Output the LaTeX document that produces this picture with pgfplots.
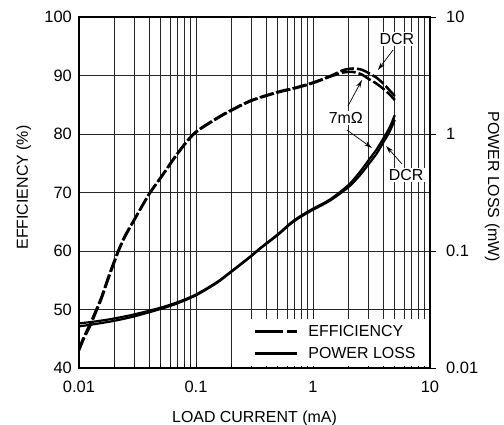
\documentclass[border=0pt]{standalone}
\usepackage{fontspec}
\setmainfont{Liberation Sans}
\usepackage{pgfplots}
\usepackage{pgfplotstable}
\pgfplotsset{compat=1.18}
\usetikzlibrary{arrows.meta}

\pgfplotstableread{
x a b
0.0100 43.0 43.3
0.0110 45.0 45.3
0.0124 47.1 47.5
0.0140 49.6 49.9
0.0156 51.9 52.2
0.0180 55.5 55.8
0.0217 59.9 60.1
0.0250 62.6 62.8
0.0303 65.6 65.7
0.0350 67.8 67.9
0.0407 70.0 70.1
0.0500 72.5 72.6
0.0650 75.8 75.9
0.0800 78.2 78.3
0.1000 80.3 80.4
0.1500 82.6 82.7
0.2000 84.0 84.1
0.3000 85.7 85.8
0.5000 87.1 87.2
0.7000 87.8 87.9
1.0000 88.7 88.8
1.4000 89.8 89.9
1.8000 90.5 90.9
2.2000 90.6 91.2
2.6000 90.2 91.0
3.0000 89.4 90.4
3.5000 88.6 89.6
4.0000 87.7 88.6
4.5000 86.8 87.5
5.0000 85.8 86.5
}\efftable

\pgfplotstableread{
x a b
0.0100 0.0240 0.0227
0.0125 0.0247 0.0234
0.0150 0.0253 0.0241
0.0200 0.0265 0.0253
0.0300 0.0288 0.0277
0.0500 0.0328 0.0320
0.0700 0.0366 0.0358
0.1000 0.0425 0.0418
0.1500 0.0540 0.0532
0.2000 0.0670 0.0662
0.3000 0.0920 0.0910
0.3500 0.1050 0.1040
0.5000 0.1390 0.1370
0.6500 0.1750 0.1720
0.8000 0.2020 0.1980
1.0000 0.2300 0.2250
1.4000 0.2760 0.2700
2.0000 0.3650 0.3500
2.5000 0.4700 0.4400
3.0000 0.6000 0.5550
3.5000 0.7400 0.6800
4.0000 0.9200 0.8500
4.5000 1.1300 1.0400
5.0000 1.4500 1.3200
}\losstable

\begin{document}
\begin{tikzpicture}[font=\fontsize{16}{19}\selectfont]
\begin{axis}[
  name=main,
  scale only axis, width=351bp, height=351bp,
  xmode=log, xmin=0.01, xmax=10,
  ymin=40, ymax=100,
  ytick={40,50,...,100},
  xtick={0.01,0.1,1,10}, xticklabels={0.01,0.1,1,10},
  minor xtick={0.02,0.03,0.04,0.05,0.06,0.07,0.08,0.09,0.2,0.3,0.4,0.5,0.6,0.7,0.8,0.9,2,3,4,5,6,7,8,9},
  grid=both,
  major grid style={black!85, line width=0.9bp},
  minor grid style={black!85, line width=0.9bp},
  axis line style={line width=1.3bp},
  xtick pos=left, ytick pos=left,
  tick align=inside,
  major tick length=5bp, minor tick length=4bp,
  ytick style={draw=none},
  xtick style={black, line width=0.8bp},
  /pgf/number format/assume math mode=true,
  tick label style={font=\fontsize{16.5}{19}\selectfont},
  xticklabel style={anchor=base, yshift=-24bp, inner sep=0pt},
  yticklabel style={anchor=east, xshift=-7bp, inner sep=0pt},
  xlabel={LOAD CURRENT (mA)},
  every axis x label/.style={at={([yshift=-54bp]axis description cs:0.5,0)}, anchor=base, inner sep=0pt},
  ylabel={EFFICIENCY (\%)},
  every axis y label/.style={at={([xshift=-51bp]axis description cs:0,0.514)}, rotate=90, anchor=base, inner sep=0pt},
]
\addplot[black, line width=2.5bp, dash pattern=on 14bp off 3bp, smooth] table[x=x, y=a] {\efftable};
\addplot[black, line width=2.5bp, dash pattern=on 14bp off 3bp, dash phase=2bp, smooth] table[x=x, y=b] {\efftable};

\node[fill=white, inner sep=1.5bp] at (axis cs:5.22,96.24) {DCR};
\draw[-{Stealth[length=8bp,width=4.5bp]}, line width=0.7bp] (axis cs:4.83,94.36) -- (axis cs:3.59,90.94);
\node[fill=white, inner sep=1.5bp] at (axis cs:1.91,82.74) {7m\symbol{"03A9}};
\draw[-{Stealth[length=8bp,width=4.5bp]}, line width=0.7bp] (axis cs:1.99,84.79) -- (axis cs:2.62,89.23);
\draw[-{Stealth[length=8bp,width=4.5bp]}, line width=0.7bp] (axis cs:1.95,80.68) -- (axis cs:3.19,77.61);
\node[fill=white, inner sep=1.5bp] at (axis cs:6.24,72.99) {DCR};
\draw[-{Stealth[length=8bp,width=4.5bp]}, line width=0.7bp] (axis cs:5.77,74.87) -- (axis cs:4.21,77.95);
\end{axis}

\begin{axis}[
  scale only axis, width=351bp, height=351bp,
  xmode=log, xmin=0.01, xmax=10,
  ymode=log, ymin=0.01, ymax=10,
  axis x line=none,
  axis y line*=right,
  axis line style={line width=1.3bp},
  ytick={0.01,0.1,1,10}, yticklabels={0.01,0.1,1,10},
  tick align=outside,
  major tick length=6bp, minor tick length=0pt,
  ytick style={black, line width=0.9bp},
  tick label style={font=\fontsize{16.5}{19}\selectfont},
  yticklabel style={anchor=west, xshift=10bp, inner sep=0pt},
  ylabel={POWER LOSS (mW)},
  every axis y label/.style={at={([xshift=58bp]axis description cs:1,0.5165)}, rotate=-90, anchor=base, inner sep=0pt},
  legend style={at={(0.988,0.005)}, anchor=south east, draw=none, fill=white,
    inner xsep=8bp, inner ysep=3bp, row sep=3bp, column sep=8bp,
    font=\fontsize{16}{19}\selectfont,
    nodes={inner sep=2bp, text height=12bp, text depth=3bp}},
  legend cell align=left,
  legend image code/.code={\draw[#1] (0bp,0bp) -- (42bp,0bp);},
]
\addlegendimage{black, line width=2.5bp, dash pattern=on 28bp off 4bp}
\addlegendentry{EFFICIENCY}
\addlegendimage{black, line width=2.5bp}
\addlegendentry{POWER LOSS}
\addplot[black, line width=2.2bp, smooth, forget plot] table[x=x, y=a] {\losstable};
\addplot[black, line width=2.2bp, smooth, forget plot] table[x=x, y=b] {\losstable};
\end{axis}

\pgfresetboundingbox
\path ([shift={(-79bp,-57bp)}]main.south west) rectangle ([shift={(74bp,17bp)}]main.north east);
\end{tikzpicture}
\end{document}
